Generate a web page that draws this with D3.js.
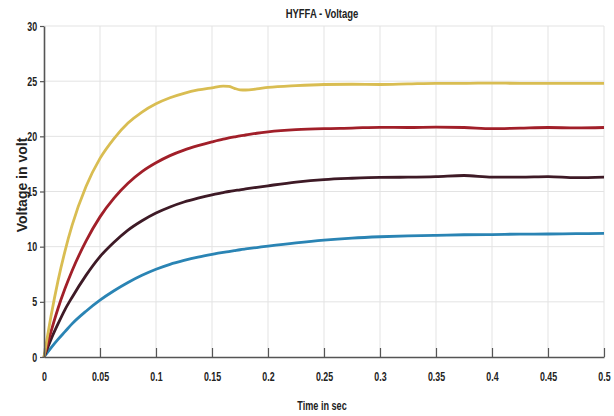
<!DOCTYPE html>
<html>
<head>
<meta charset="utf-8">
<script src="https://cdn.jsdelivr.net/npm/d3@7"></script>
<style>
  html, body { margin: 0; padding: 0; background: #fff; }
  svg { display: block; }
  .lbl { font-family: "Liberation Sans", Arial, sans-serif; font-weight: bold; fill: #222; }
</style>
</head>
<body>
<svg id="chart" width="614" height="416"></svg>
<script>
const time = [0, 0.00625, 0.0125, 0.01875, 0.025, 0.0375, 0.05, 0.0625, 0.075, 0.0875, 0.1, 0.1125, 0.125, 0.1375, 0.15, 0.16, 0.165, 0.17, 0.175, 0.18, 0.19, 0.2, 0.225, 0.25, 0.275, 0.3, 0.325, 0.35, 0.375, 0.4, 0.425, 0.45, 0.475, 0.5];
const yellowSeries = [0, 3.7, 6.9, 9.6, 11.9, 15.45, 18.0, 19.8, 21.2, 22.2, 22.95, 23.5, 23.9, 24.2, 24.4, 24.55, 24.52, 24.35, 24.22, 24.2, 24.3, 24.43, 24.6, 24.7, 24.72, 24.7, 24.75, 24.8, 24.8, 24.83, 24.8, 24.8, 24.8, 24.8];
const redSeries = [0, 2.3, 4.4, 6.2, 7.8, 10.5, 12.7, 14.4, 15.75, 16.8, 17.6, 18.25, 18.75, 19.15, 19.5, 19.75, 19.85, 19.95, 20.05, 20.12, 20.28, 20.4, 20.6, 20.7, 20.75, 20.82, 20.8, 20.83, 20.8, 20.7, 20.75, 20.8, 20.76, 20.8];
const darkSeries = [0, 1.6, 3.0, 4.3, 5.4, 7.4, 9.1, 10.4, 11.5, 12.35, 13.05, 13.6, 14.05, 14.4, 14.7, 14.9, 15.0, 15.08, 15.15, 15.23, 15.38, 15.52, 15.85, 16.08, 16.2, 16.28, 16.3, 16.35, 16.45, 16.3, 16.3, 16.35, 16.25, 16.3];
const blueSeries = [0, 0.83, 1.6, 2.3, 3.0, 4.15, 5.15, 6.0, 6.75, 7.4, 7.95, 8.4, 8.75, 9.05, 9.3, 9.48, 9.56, 9.64, 9.72, 9.79, 9.92, 10.05, 10.35, 10.6, 10.78, 10.9, 10.98, 11.03, 11.08, 11.1, 11.14, 11.15, 11.18, 11.2];
const xTicks = [0, 0.05, 0.1, 0.15, 0.2, 0.25, 0.3, 0.35, 0.4, 0.45, 0.5];
const xTickLabels = ["0", "0.05", "0.1", "0.15", "0.2", "0.25", "0.3", "0.35", "0.4", "0.45", "0.5"];
const yTicks = [0, 5, 10, 15, 20, 25, 30];
const seriesList = [
  { name: "blue", values: blueSeries, color: "#2a84b4" },
  { name: "dark", values: darkSeries, color: "#3e1a26" },
  { name: "red", values: redSeries, color: "#a11f29" },
  { name: "yellow", values: yellowSeries, color: "#d9bd52" }
];
const titleText = "HYFFA - Voltage";
const xLabel = "Time in sec";
const yLabel = "Voltage in volt";

const svg = d3.select("#chart");
const padL = 44, padR = 604, padT = 26, padB = 357;
const x = d3.scaleLinear().domain([0, 0.5]).range([padL, padR]);
const y = d3.scaleLinear().domain([0, 30]).range([padB, padT]);

// grid
const grid = svg.append("g");
grid.selectAll("line.vx").data(xTicks.slice(1)).join("line")
  .attr("x1", d => x(d)).attr("x2", d => x(d)).attr("y1", padT).attr("y2", padB)
  .attr("stroke", "#e3e3e3").attr("stroke-width", 1);
grid.selectAll("line.hy").data(yTicks.slice(1)).join("line")
  .attr("x1", padL).attr("x2", padR).attr("y1", d => y(d)).attr("y2", d => y(d))
  .attr("stroke", "#e3e3e3").attr("stroke-width", 1);

// lines
const line = d3.line().x((d, i) => x(time[i])).y(d => y(d)).curve(d3.curveMonotoneX);
svg.append("g").selectAll("path").data(seriesList).join("path")
  .attr("d", s => line(s.values))
  .attr("fill", "none").attr("stroke", s => s.color).attr("stroke-width", 2.8)
  .attr("stroke-linejoin", "round");

// axes
const xAxis = d3.axisBottom(x).tickValues(xTicks).tickFormat((d, i) => xTickLabels[i]).tickSizeInner(-9).tickSizeOuter(0).tickPadding(15);
const gx = svg.append("g").attr("transform", `translate(0,${padB})`).call(xAxis);
gx.select(".domain").attr("stroke", "#555").attr("stroke-width", 1.6);
gx.selectAll(".tick line").attr("stroke", "#555").attr("stroke-width", 1.2);
gx.selectAll(".tick text").attr("class", "lbl").attr("font-size", 13).attr("fill", "#222")
  .attr("transform", "scale(0.68,1)");

const yAxis = d3.axisLeft(y).tickValues(yTicks).tickSizeInner(4).tickSizeOuter(0).tickPadding(3);
const gy = svg.append("g").attr("transform", `translate(${padL},0)`).call(yAxis);
gy.select(".domain").attr("stroke", "#555").attr("stroke-width", 1.6);
gy.selectAll(".tick line").attr("stroke", "#555").attr("stroke-width", 1.2);
gy.selectAll(".tick text").attr("class", "lbl").attr("font-size", 13).attr("fill", "#222")
  .attr("transform", "scale(0.68,1)").attr("x", -10);

// texts
svg.append("text").attr("class", "lbl").attr("transform", "translate(322,18) scale(0.73,1)")
  .attr("text-anchor", "middle").attr("font-size", 13).text(titleText);
svg.append("text").attr("class", "lbl").attr("transform", "translate(322,410) scale(0.7,1)")
  .attr("text-anchor", "middle").attr("font-size", 13).text(xLabel);
svg.append("text").attr("class", "lbl").attr("transform", "translate(27,185) rotate(-90)")
  .attr("text-anchor", "middle").attr("font-size", 14).text(yLabel);
</script>
</body>
</html>
